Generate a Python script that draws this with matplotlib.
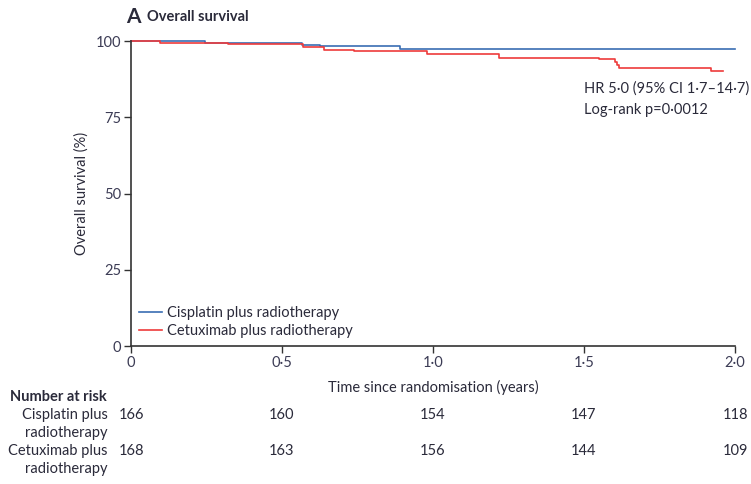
import matplotlib as mpl
from matplotlib import pyplot as plt

plt.rcParams['font.family'] = ['Lato', 'DejaVu Sans']

# Kaplan-Meier step curves (time in years, survival in %)
cis_time = [0, 0.245, 0.565, 0.626, 0.89, 2.0]
cis_surv = [100, 99.4, 98.8, 98.3, 97.4, 97.4]
cet_time = [0, 0.096, 0.32, 0.57, 0.64, 0.74, 0.98, 1.22, 1.55, 1.603, 1.609, 1.615, 1.92, 1.96]
cet_surv = [100, 99.4, 98.9, 97.9, 97.1, 96.6, 95.8, 94.4, 94.1, 93.2, 92.1, 91.1, 90.2, 90.2]

risk_times = [0, 0.5, 1.0, 1.5, 2.0]
cis_risk = [166, 160, 154, 147, 118]
cet_risk = [168, 163, 156, 144, 109]
x_ticklabels = ['0', '0·5', '1·0', '1·5', '2·0']
y_ticks = [0, 25, 50, 75, 100]

blue = '#3a6db3'
red = '#ee3b3b'
txt = '#2a2a3a'
tick_col = '#3c3c55'
fs = 10.5

fig = plt.figure(figsize=(7.51, 4.84), dpi=100)
ax = fig.add_axes([131 / 751, 138 / 484, 604 / 751, 305 / 484])

ax.step(cis_time, cis_surv, where='post', color=blue, lw=1.2, clip_on=False,
        label='Cisplatin plus radiotherapy')
ax.step(cet_time, cet_surv, where='post', color=red, lw=1.2, clip_on=False,
        label='Cetuximab plus radiotherapy')

ax.set_xlim(0, 2.0)
ax.set_ylim(0, 100)
ax.set_xticks(risk_times)
ax.set_xticklabels(x_ticklabels)
ax.set_yticks(y_ticks)
for s in ['top', 'right']:
    ax.spines[s].set_visible(False)
for s in ['left', 'bottom']:
    ax.spines[s].set_color('#333333')
    ax.spines[s].set_linewidth(1.2)
ax.tick_params(direction='out', length=5, width=1, color='#333333',
               labelsize=fs, labelcolor=tick_col, pad=2)

ax.set_xlabel('Time since randomisation (years)', fontsize=fs, color=txt, labelpad=7)
ax.set_ylabel('Overall survival (%)', fontsize=fs, color=txt, labelpad=5)

leg = ax.legend(loc='lower left', bbox_to_anchor=(0.0, 0.0), frameon=False,
                fontsize=fs, handlelength=1.6, handletextpad=0.3,
                labelspacing=0.25, borderaxespad=0.15)
for t in leg.get_texts():
    t.set_color(txt)

ax.text(1.5, 84.5, 'HR 5·0 (95% CI 1·7–14·7)', fontsize=fs, color=txt, va='center')
ax.text(1.5, 77.3, 'Log-rank p=0·0012', fontsize=fs, color=txt, va='center')

# panel title
fig.text(126 / 751, 1 - 17 / 484, 'A', fontsize=15, fontweight='bold', color=txt, va='center')
fig.text(147 / 751, 1 - 17 / 484, 'Overall survival', fontsize=fs, fontweight='bold',
         color=txt, va='center')

# number at risk table
fig.text(10 / 751, 1 - 397 / 484, 'Number at risk', fontsize=fs, fontweight='bold',
         color=txt, va='center')
rows = [('Cisplatin plus\nradiotherapy', cis_risk, 424),
        ('Cetuximab plus\nradiotherapy', cet_risk, 460)]
for label, counts, ypix in rows:
    fig.text(108 / 751, 1 - ypix / 484, label, fontsize=fs, color=txt,
             ha='right', va='center', linespacing=1.3)
    for t, n in zip(risk_times, counts):
        xfig = ax.transData.transform((t, 0))[0] / fig.bbox.width
        fig.text(xfig, 1 - (ypix - 9) / 484, str(n), fontsize=fs, color=txt,
                 ha='center', va='center')

plt.savefig('out.png', dpi=100)
plt.close()
